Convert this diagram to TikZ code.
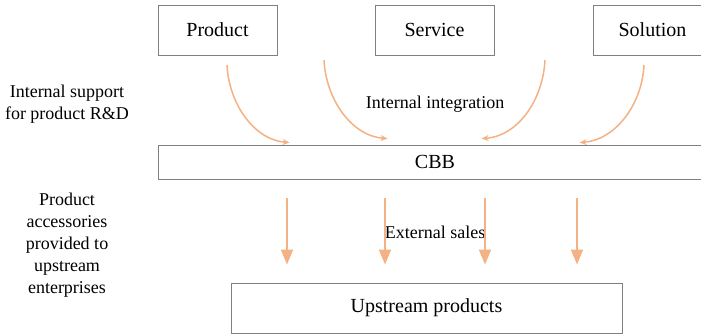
\documentclass[tikz,border=0pt]{standalone}
\usepackage{fontspec}
\setmainfont{LiberationSerif-Regular.ttf}
\usetikzlibrary{arrows.meta,calc}
\definecolor{peach}{RGB}{244,177,131}
\definecolor{edge}{RGB}{128,128,128}
\begin{document}
\begin{tikzpicture}[x=1pt, y=-1pt, >={Stealth[length=7pt,width=6pt]},
        box/.style={draw=edge, line width=0.9pt, inner sep=0pt, font=\rmfamily\fontsize{20}{24}\selectfont},
        note/.style={align=center, inner sep=0pt, font=\rmfamily\fontsize{18}{22}\selectfont},
        merge/.style={->, draw=peach, line width=1.5pt},
        sales/.style={-{Triangle[length=15pt,width=12pt]}, draw=peach, line width=2pt}]
                \path[use as bounding box, clip] (0,0) rectangle (701,335);
                \node[box, minimum width=119pt, minimum height=50pt] (prod) at (217.5,30) {Product};
                \node[box, minimum width=119pt, minimum height=50pt] (serv) at (434.5,30) {Service};
                \node[box, minimum width=119pt, minimum height=50pt] (sol) at (652.5,30) {Solution};
                \node[box, minimum width=554pt, minimum height=34pt] (cbb) at (435,162) {CBB};
                \node[box, minimum width=391pt, minimum height=50pt] (up) at (426.5,308) {Upstream products};
                \node[note] (intsup) at (67,104) {Internal support\\for product R\&D};
                \node[note] (acc) at (67,245) {Product\\accessories\\provided to\\upstream\\enterprises};
                \node[note] (integ) at (435,104) {Internal integration};
                \node[note] (ext) at (435,232) {External sales};
                % curved links into CBB
                \coordinate (c1) at (227,65);
                \coordinate (c2) at (324,60);
                \coordinate (c3) at (545,60);
                \coordinate (c4) at (644,65);
                \draw[merge] (c1) .. controls (229,105) and (255,140) .. ($(cbb.north west)+(132,-2)$);
                \draw[merge] (c2) .. controls (326,100) and (352,136) .. ($(cbb.north west)+(230,-6)$);
                \draw[merge] (c3) .. controls (543,100) and (518,136) .. ($(cbb.north west)+(324,-6)$);
                \draw[merge] (c4) .. controls (642,105) and (615,140) .. ($(cbb.north west)+(422,-2)$);
                % sales arrows
                \foreach \i/\x in {1/287,2/385,3/485,4/577} {
                        \coordinate (s\i) at (\x,0);
                        \draw[sales] ($(cbb.south -| s\i)+(0,19)$) -- ($(up.north -| s\i)+(0,-18)$);
                }
        \end{tikzpicture}
\end{document}
